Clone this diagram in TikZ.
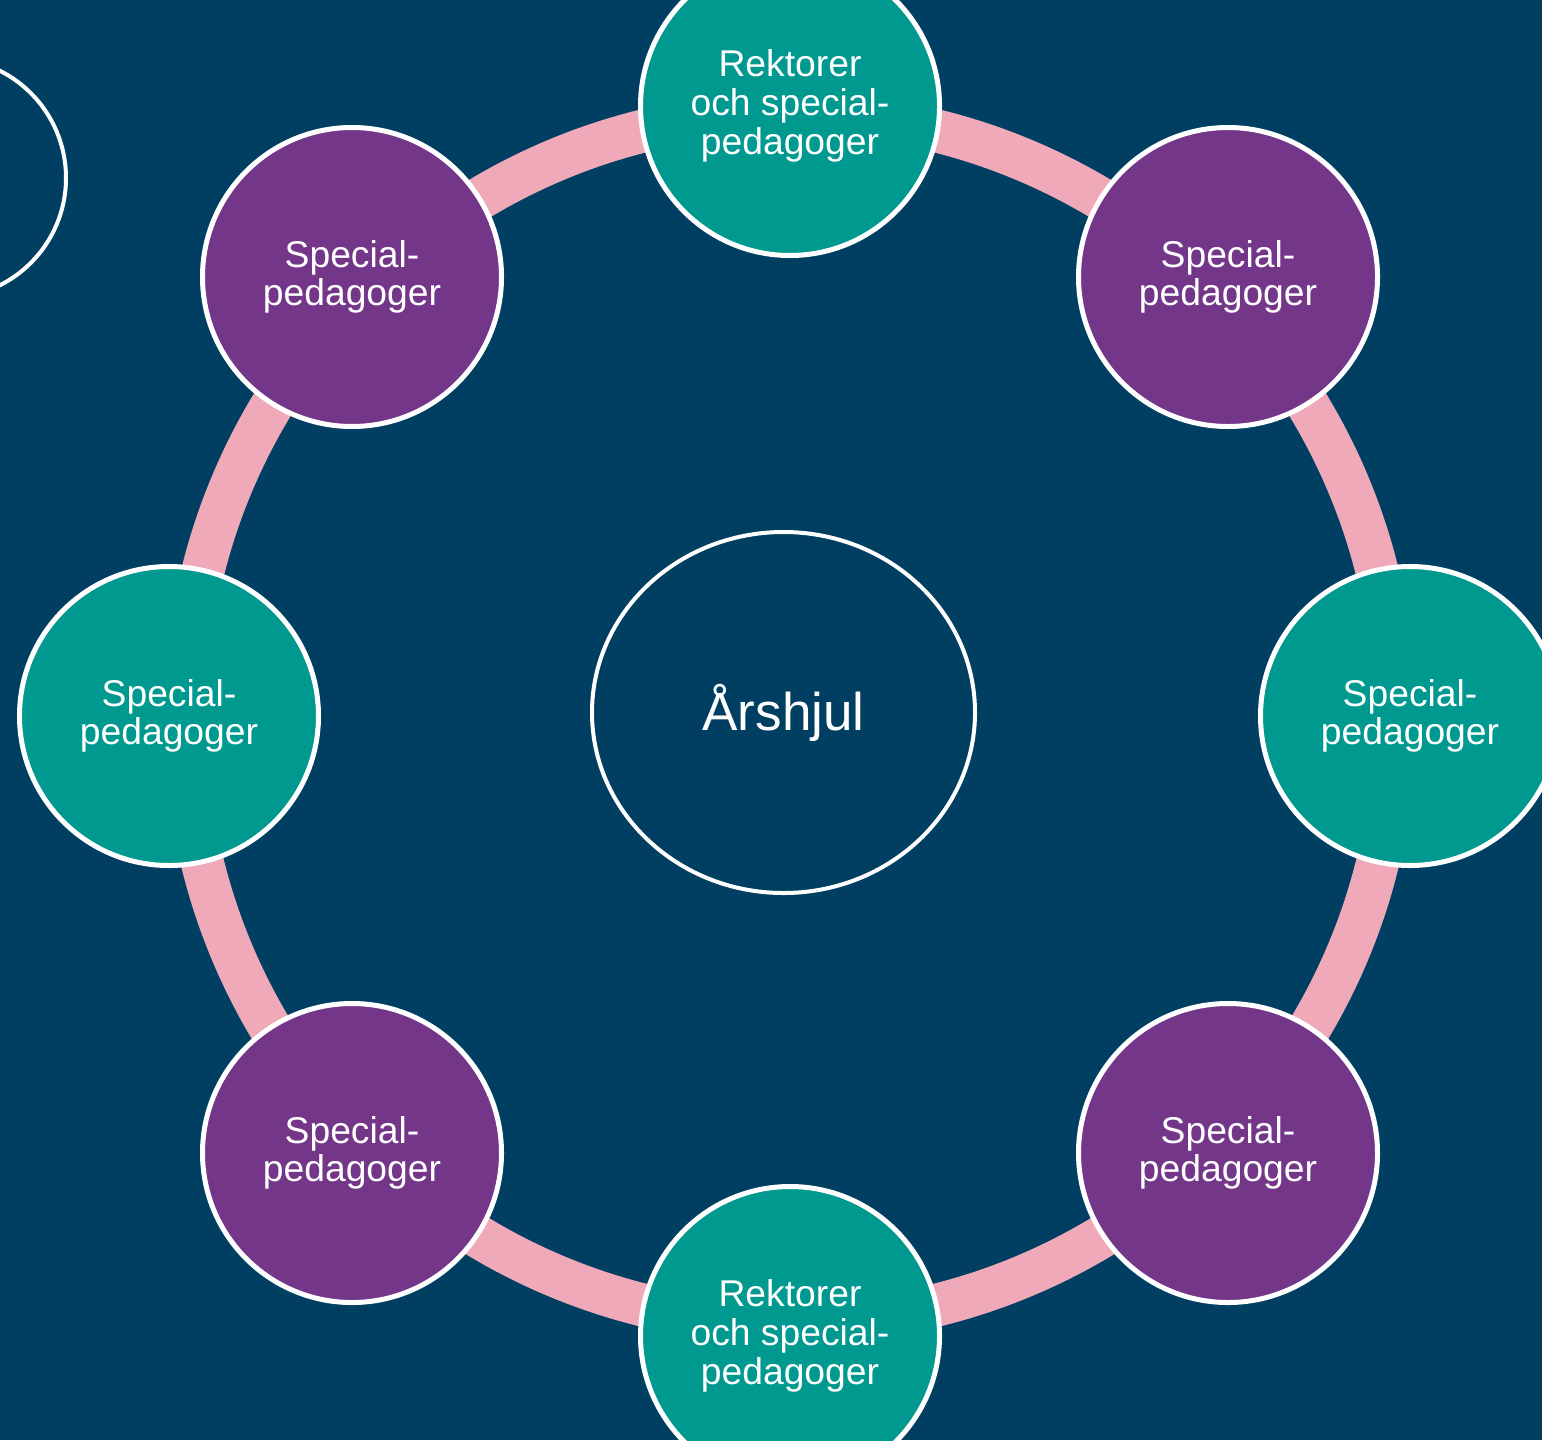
\documentclass[tikz,border=0pt]{standalone}
\usepackage{fontspec}
\setmainfont{Liberation Sans}
\usetikzlibrary{shapes.geometric}

\definecolor{bakgrund}{RGB}{0,63,98}
\definecolor{gron}{RGB}{0,153,144}
\definecolor{lila}{RGB}{116,54,137}
\definecolor{rosa}{RGB}{239,169,184}

\begin{document}
\begin{tikzpicture}[
	rund/.style={circle, draw=white, line width=0.05cm, inner sep=0pt, minimum size=2.99cm,
		text=white, align=center, font=\fontsize{10.6}{11}\selectfont},
	grontrund/.style={rund, fill=gron},
	lilarund/.style={rund, fill=lila}]

	%% Bakgrund
	\fill[bakgrund] (0,0) rectangle (15.42,-14.40);
	\useasboundingbox (0,0) rectangle (15.42,-14.40);

	%% Halv cirkel vid kanten
	\node[circle, draw=white, line width=0.04cm, minimum size=2.40cm] (kant) at (-0.54,-1.78) {};

	%% Ring
	\coordinate (mitt) at (7.9,-7.18);
	\draw[rosa, line width=0.43cm] (mitt) circle (6.05);

	%% Arshjul
	\node[ellipse, draw=white, line width=0.04cm, inner sep=0pt, minimum width=3.83cm, minimum height=3.61cm,
		text=white, font=\fontsize{15.1}{17}\selectfont] (arshjul) at (7.835,-7.125) {Årshjul};

	%%%%%%%%%%%%%%%%

	%% Cirklar
	\node[grontrund] (rektorUppe) at (7.9,-1.06) {Rektorer\\och special-\\pedagoger};
	\node[lilarund] (specUppeH) at (12.28,-2.77) {Special-\\pedagoger};
	\node[grontrund] (specH) at (14.10,-7.16) {Special-\\pedagoger};
	\node[lilarund] (specNereH) at (12.28,-11.53) {Special-\\pedagoger};
	\node[grontrund] (rektorNere) at (7.9,-13.36) {Rektorer\\och special-\\pedagoger};
	\node[lilarund] (specNereV) at (3.52,-11.53) {Special-\\pedagoger};
	\node[grontrund] (specV) at (1.69,-7.16) {Special-\\pedagoger};
	\node[lilarund] (specUppeV) at (3.52,-2.77) {Special-\\pedagoger};

\end{tikzpicture}
\end{document}
